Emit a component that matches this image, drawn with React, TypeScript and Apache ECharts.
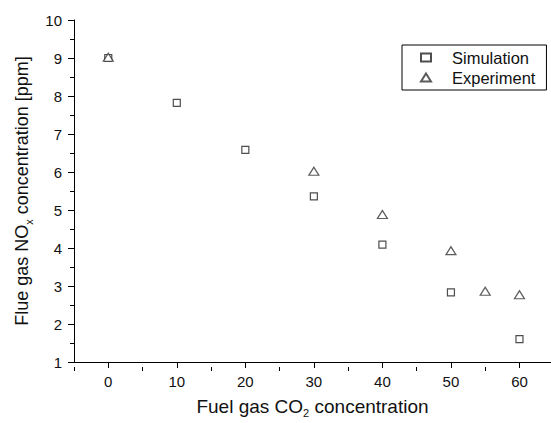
import React, { useEffect, useRef } from "react";
import * as echarts from "echarts";

const simX = [0, 10, 20, 30, 40, 50, 60];
const simY = [9.0, 7.82, 6.58, 5.36, 4.09, 2.83, 1.6];
const expX = [0, 30, 40, 50, 55, 60];
const expY = [9.02, 6.02, 4.88, 3.93, 2.86, 2.77];
const xMajorTicks = [0, 10, 20, 30, 40, 50, 60];
const xMinorTicks = [-5, 5, 15, 25, 35, 45, 55];
const seriesNames = ["Simulation", "Experiment"];

const FONT = "Liberation Sans, Arial, Helvetica, sans-serif";

export default function App() {
  const ref = useRef<HTMLDivElement>(null);
  useEffect(() => {
    if (!ref.current) return;
    const chart = echarts.init(ref.current, null, { renderer: "svg" });
    const gridBox = { left: 74, right: 0, top: 20, bottom: 56 };
    const xMin = -5;
    const xMax = 64.6;
    const subRich = (size: number) => ({
      m: { fontSize: size, lineHeight: 24, fontFamily: FONT, color: "#111", verticalAlign: "middle" },
      s: { fontSize: 11, lineHeight: 11, fontFamily: FONT, color: "#111", verticalAlign: "bottom" },
    });
    chart.setOption({
      animation: false,
      backgroundColor: "#fff",
      textStyle: { fontFamily: FONT },
      grid: [
        { ...gridBox, containLabel: false },
        { ...gridBox, containLabel: false },
      ],
      legend: {
        data: seriesNames,
        orient: "vertical",
        left: 402,
        top: 45,
        borderColor: "#000",
        borderWidth: 1,
        borderRadius: 0,
        padding: [4, 11, 4, 18],
        itemWidth: 10,
        itemHeight: 8,
        itemGap: 3,
        symbolKeepAspect: true,
        textStyle: { fontSize: 16.5, color: "#111", fontFamily: FONT, padding: [0, 0, 0, 16] },
      },
      xAxis: [
        {
          type: "value",
          gridIndex: 0,
          min: xMin,
          max: xMax,
          name: "{m|Fuel gas CO}{s|2}{m| concentration}",
          nameLocation: "middle",
          nameGap: 32,
          nameTextStyle: { rich: subRich(19), fontSize: 19, color: "#111" },
          axisLine: { show: true, onZero: false, lineStyle: { color: "#000", width: 1 } },
          axisTick: { show: true, customValues: xMajorTicks, length: 6, lineStyle: { color: "#000" } },
          axisLabel: { customValues: xMajorTicks, fontSize: 15, color: "#111", margin: 12, fontFamily: FONT },
          splitLine: { show: false },
        },
        {
          type: "value",
          gridIndex: 1,
          min: xMin,
          max: xMax,
          axisLine: { show: false },
          axisTick: { show: true, customValues: xMinorTicks, length: 4, lineStyle: { color: "#000" } },
          axisLabel: { show: false },
          splitLine: { show: false },
        },
      ],
      yAxis: [
        {
          type: "value",
          gridIndex: 0,
          min: 1,
          max: 10,
          interval: 1,
          name: "{m|Flue gas NO}{s|x}{m| concentration [ppm]}",
          nameLocation: "middle",
          nameRotate: 90,
          nameGap: 40,
          nameTextStyle: { rich: subRich(18), fontSize: 18, color: "#111" },
          axisLine: { show: true, onZero: false, lineStyle: { color: "#000", width: 1 } },
          axisTick: { show: true, length: 6, lineStyle: { color: "#000" } },
          minorTick: { show: true, splitNumber: 2, length: 4, lineStyle: { color: "#000" } },
          axisLabel: { fontSize: 15, color: "#111", margin: 12, fontFamily: FONT },
          splitLine: { show: false },
        },
        {
          type: "value",
          gridIndex: 1,
          min: 1,
          max: 10,
          show: false,
        },
      ],
      series: [
        {
          name: seriesNames[0],
          type: "scatter",
          xAxisIndex: 0,
          yAxisIndex: 0,
          symbol: "rect",
          symbolSize: 7,
          itemStyle: { color: "#fff", borderColor: "#222", borderWidth: 1.2 },
          data: simX.map((x, i) => [x, simY[i]]),
          z: 2,
        },
        {
          name: seriesNames[1],
          type: "scatter",
          xAxisIndex: 0,
          yAxisIndex: 0,
          symbol: "triangle",
          symbolSize: [10, 8],
          itemStyle: { color: "#fff", borderColor: "#333", borderWidth: 1.2 },
          data: expX.map((x, i) => [x, expY[i]]),
          z: 3,
        },
      ],
    });
    return () => chart.dispose();
  }, []);
  return (
    <div
      ref={ref}
      style={{ position: "fixed", left: 0, top: 0, width: 551, height: 423, background: "#fff" }}
    />
  );
}
